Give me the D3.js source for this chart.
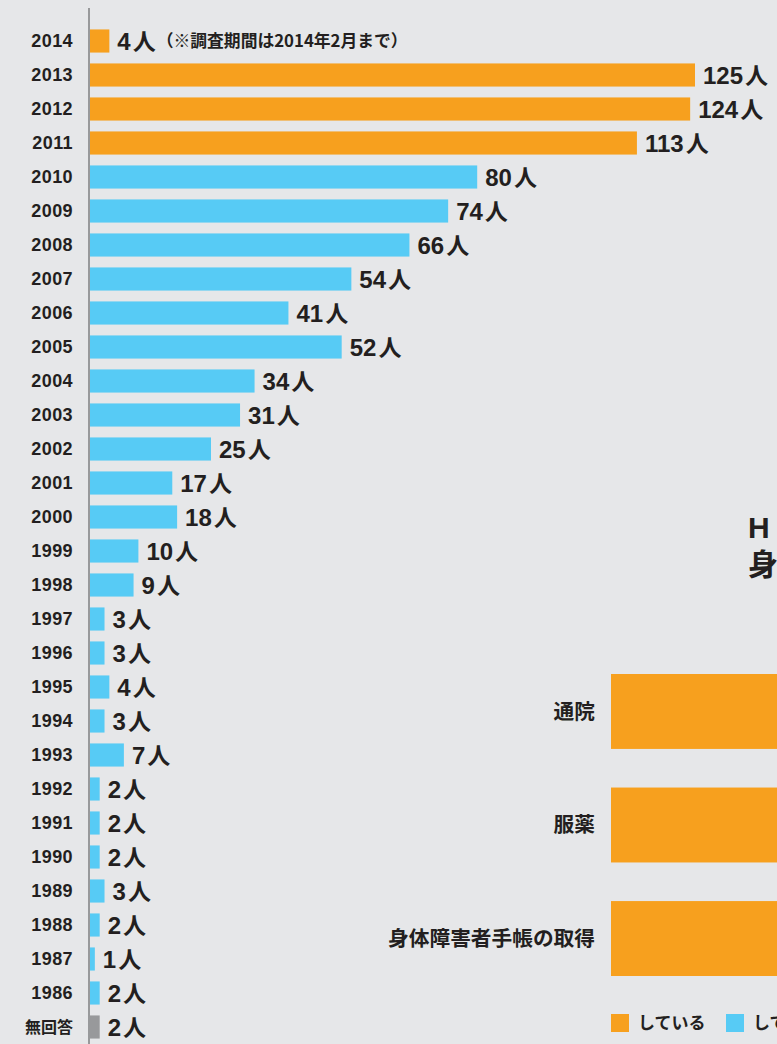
<!doctype html>
<html>
<head>
  <meta charset="utf-8">
  <title>回答者の年別人数</title>
  <style>
    html, body {
      margin: 0;
      padding: 0;
      background: #e6e7e9;
      overflow: hidden;
    }
    svg {
      display: block;
    }
    text {
      fill: #231f20;
      font-weight: bold;
    }
  </style>
</head>
<body>
  <div id="vis"></div>

  <script src="https://cdn.jsdelivr.net/npm/d3@7/dist/d3.min.js"></script>
  <script>

    // left chart data
    var years = ["2014", "2013", "2012", "2011", "2010", "2009", "2008", "2007",
                 "2006", "2005", "2004", "2003", "2002", "2001", "2000", "1999",
                 "1998", "1997", "1996", "1995", "1994", "1993", "1992", "1991",
                 "1990", "1989", "1988", "1987", "1986", "無回答"];
    var counts = [4, 125, 124, 113, 80, 74, 66, 54, 41, 52, 34, 31, 25, 17, 18, 10,
                  9, 3, 3, 4, 3, 7, 2, 2, 2, 3, 2, 1, 2, 2];
    var groups = ["recent", "recent", "recent", "recent", "old", "old", "old", "old",
                  "old", "old", "old", "old", "old", "old", "old", "old", "old", "old",
                  "old", "old", "old", "old", "old", "old", "old", "old", "old", "old",
                  "old", "none"];
    var note = "（※調査期間は2014年2月まで）";

    // right chart (cut off at the edge of the picture)
    var rightTitle = ["H", "身"];
    var rightCats = ["通院", "服薬", "身体障害者手帳の取得"];
    var rightValues = [60, 60, 60];
    var legendLabels = ["している", "していない"];

    var colors = {recent: "#f7a01e", old: "#57cbf5", none: "#98999b"};

    var W = 777, H = 1044;
    var numFont = "'Liberation Sans', 'Noto Sans CJK JP', sans-serif";
    var jpFont = "'Noto Sans CJK JP', sans-serif";

    var svg = d3.select("#vis")
                .append("svg")
                .attr("width", W)
                .attr("height", H);

    var x = d3.scaleLinear()
              .domain([0, 125])
              .range([90, 695]);

    var y = d3.scaleBand()
              .domain(years)
              .range([24, 1044])
              .paddingInner(0.32)
              .paddingOuter(0.16);

    // vertical axis line
    svg.append("line")
       .attr("x1", 89).attr("x2", 89)
       .attr("y1", 8).attr("y2", H)
       .attr("stroke", "#98999b")
       .attr("stroke-width", 2);

    var rows = years.map(function(d, i){
      return {year: d, n: counts[i], g: groups[i]};
    });

    svg.selectAll("rect.bar")
       .data(rows)
       .enter()
       .append("rect")
       .attr("class", "bar")
       .attr("x", x(0))
       .attr("y", function(d){ return y(d.year); })
       .attr("width", function(d){ return x(d.n) - x(0); })
       .attr("height", y.bandwidth())
       .attr("fill", function(d){ return colors[d.g]; });

    svg.selectAll("text.year")
       .data(rows)
       .enter()
       .append("text")
       .attr("class", "year")
       .attr("x", 73)
       .attr("y", function(d){ return y(d.year) + y.bandwidth() / 2; })
       .attr("dy", "0.36em")
       .attr("text-anchor", "end")
       .style("font-family", function(d){ return d.g === "none" ? jpFont : numFont; })
       .style("font-size", function(d){ return d.g === "none" ? "16px" : "18px"; })
       .style("letter-spacing", function(d){ return d.g === "none" ? "0px" : "0.4px"; })
       .text(function(d){ return d.year; });

    var vals = svg.selectAll("text.val")
       .data(rows)
       .enter()
       .append("text")
       .attr("class", "val")
       .attr("x", function(d){ return x(d.n) + 8; })
       .attr("y", function(d){ return y(d.year) + y.bandwidth() / 2; })
       .attr("dy", "0.37em")
       .style("font-family", numFont)
       .style("font-size", "24px");

    vals.append("tspan").text(function(d){ return d.n; });
    vals.append("tspan")
        .attr("dx", 2)
        .style("font-family", jpFont)
        .style("font-size", "23px")
        .text("人");

    // note next to 2014, placed right after its value label
    var firstVal = vals.nodes()[0].getBBox();
    svg.append("text")
       .attr("x", firstVal.x + firstVal.width + 1)
       .attr("y", y(years[0]) + y.bandwidth() / 2)
       .attr("dy", "0.33em")
       .style("font-family", jpFont)
       .style("font-size", "16.8px")
       .text(note);

    // right chart, partly outside the picture
    svg.selectAll("text.rtitle")
       .data(rightTitle)
       .enter()
       .append("text")
       .attr("class", "rtitle")
       .attr("x", 748)
       .attr("y", function(d, i){ return 538 + i * 37; })
       .style("font-family", numFont)
       .style("font-size", "30px")
       .text(function(d){ return d; });

    var rx = d3.scaleLinear()
               .domain([0, 100])
               .range([611, 1111]);

    var ry = d3.scaleBand()
               .domain(rightCats)
               .range([674, 976])
               .paddingInner(0.34)
               .paddingOuter(0);

    svg.selectAll("rect.rbar")
       .data(rightCats)
       .enter()
       .append("rect")
       .attr("class", "rbar")
       .attr("x", rx(0))
       .attr("y", function(d){ return ry(d); })
       .attr("width", function(d, i){ return rx(rightValues[i]) - rx(0); })
       .attr("height", ry.bandwidth())
       .attr("fill", colors.recent);

    svg.selectAll("text.rcat")
       .data(rightCats)
       .enter()
       .append("text")
       .attr("class", "rcat")
       .attr("x", 595)
       .attr("y", function(d){ return ry(d) + ry.bandwidth() / 2; })
       .attr("dy", "0.36em")
       .attr("text-anchor", "end")
       .style("font-family", jpFont)
       .style("font-size", "20.7px")
       .text(function(d){ return d; });

    // legend
    var legendColors = [colors.recent, colors.old];
    var lg = svg.selectAll("g.legend")
       .data(legendLabels)
       .enter()
       .append("g")
       .attr("class", "legend")
       .attr("transform", function(d, i){ return "translate(" + (611 + i * 115) + ",1014)"; });

    lg.append("rect")
      .attr("width", 18)
      .attr("height", 18)
      .attr("fill", function(d, i){ return legendColors[i]; });

    lg.append("text")
      .attr("x", 27)
      .attr("y", 9)
      .attr("dy", "0.36em")
      .style("font-family", jpFont)
      .style("font-size", "17px")
      .text(function(d){ return d; });

  </script>
</body>
</html>
